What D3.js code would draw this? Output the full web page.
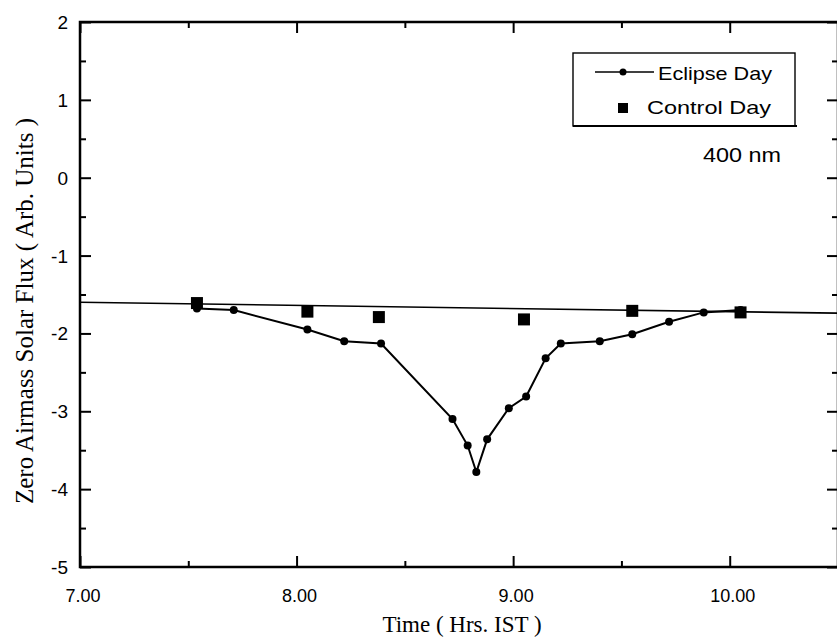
<!DOCTYPE html>
<html>
<head>
<meta charset="utf-8">
<script src="https://cdn.jsdelivr.net/npm/d3@7"></script>
<style>
    body { margin: 0; background: #fff; }
    svg { display: block; }
</style>
</head>
<body>
<svg id="chart" width="837" height="638"></svg>
<script>
// eclipse day readings (time in decimal hours IST)
var eclipseTime = [7.54, 7.71, 8.05, 8.22, 8.39, 8.72, 8.79, 8.83, 8.88, 8.98, 9.06, 9.15, 9.22, 9.40, 9.55, 9.72, 9.88, 10.05];
var eclipseFlux = [-1.68, -1.70, -1.95, -2.10, -2.13, -3.10, -3.44, -3.78, -3.36, -2.96, -2.81, -2.32, -2.13, -2.10, -2.01, -1.85, -1.73, -1.70];

// control day readings
var controlTime = [7.54, 8.05, 8.38, 9.05, 9.55, 10.05];
var controlFlux = [-1.61, -1.72, -1.79, -1.82, -1.71, -1.73];

// straight fit line through control day
var fitTime = [7.0, 10.5];
var fitFlux = [-1.60, -1.74];

var xTicks = [7, 8, 9, 10];
var xMinor = [7.5, 8.5, 9.5];
var yTicks = [2, 1, 0, -1, -2, -3, -4, -5];
var yMinor = [1.5, 0.5, -0.5, -1.5, -2.5, -3.5, -4.5];

/*=====================================================================================================
                                         Setup
======================================================================================================*/
var svg = d3.select("#chart"),
    pLeft = 80, pRight = 838, pTop = 22, pBottom = 567;

var x = d3.scaleLinear().domain([7, 10.5]).range([pLeft, pRight]);
var y = d3.scaleLinear().domain([-5, 2]).range([pBottom, pTop]);

var sans = "'Liberation Sans', Arial, Helvetica, sans-serif";
var serif = "'Liberation Serif', 'Times New Roman', Times, serif";

//frame
svg.append("rect")
    .attr("x", pLeft).attr("y", pTop)
    .attr("width", pRight - pLeft).attr("height", pBottom - pTop)
    .attr("fill", "none")
    .attr("stroke", "#000")
    .attr("stroke-width", 2.5);

//axes with inward ticks
function tickAxis(axis, scale, values, size) {
    return axis(scale).tickValues(values).tickSize(size).tickFormat("");
}
var gb = svg.append("g").attr("transform", "translate(0," + pBottom + ")");
gb.call(tickAxis(d3.axisTop, x, xTicks, 11));
gb.append("g").call(tickAxis(d3.axisTop, x, xMinor, 6));
var gt = svg.append("g").attr("transform", "translate(0," + pTop + ")");
gt.call(tickAxis(d3.axisBottom, x, xTicks, 11));
gt.append("g").call(tickAxis(d3.axisBottom, x, xMinor, 6));
var gl = svg.append("g").attr("transform", "translate(" + pLeft + ",0)");
gl.call(tickAxis(d3.axisRight, y, yTicks, 11));
gl.append("g").call(tickAxis(d3.axisRight, y, yMinor, 6));
var gr = svg.append("g").attr("transform", "translate(" + pRight + ",0)");
gr.call(tickAxis(d3.axisLeft, y, yTicks, 11));
gr.append("g").call(tickAxis(d3.axisLeft, y, yMinor, 6));

svg.selectAll(".domain").remove();
svg.selectAll(".tick line").attr("stroke", "#000").attr("stroke-width", 2);

//tick labels
svg.append("g").selectAll("text")
    .data(xTicks)
    .enter().append("text")
    .attr("x", function (d) { return x(d) + 3; })
    .attr("y", pBottom + 35)
    .attr("text-anchor", "middle")
    .attr("font-family", sans)
    .attr("font-size", 18)
    .text(function (d) { return d3.format(".2f")(d); });

svg.append("g").selectAll("text")
    .data(yTicks)
    .enter().append("text")
    .attr("x", pLeft - 12)
    .attr("y", function (d) { return y(d) + 7; })
    .attr("text-anchor", "end")
    .attr("font-family", sans)
    .attr("font-size", 19)
    .text(function (d) { return d; });

//axis titles
svg.append("text")
    .attr("x", 462).attr("y", 632)
    .attr("text-anchor", "middle")
    .attr("font-family", serif)
    .attr("font-size", 23)
    .text("Time ( Hrs. IST )");

svg.append("text")
    .attr("transform", "translate(33,311) rotate(-90)")
    .attr("text-anchor", "middle")
    .attr("font-family", serif)
    .attr("font-size", 25)
    .text("Zero Airmass Solar Flux ( Arb. Units )");

/*=====================================================================================================
                                         Series
======================================================================================================*/
var line = d3.line()
    .x(function (d) { return x(d[0]); })
    .y(function (d) { return y(d[1]); });

svg.append("path")
    .datum(d3.zip(fitTime, fitFlux))
    .attr("d", line)
    .attr("fill", "none")
    .attr("stroke", "#000")
    .attr("stroke-width", 1.6);

var eclipse = d3.zip(eclipseTime, eclipseFlux);
svg.append("path")
    .datum(eclipse)
    .attr("d", line)
    .attr("fill", "none")
    .attr("stroke", "#000")
    .attr("stroke-width", 2);

svg.append("g").selectAll("circle")
    .data(eclipse)
    .enter().append("circle")
    .attr("cx", function (d) { return x(d[0]); })
    .attr("cy", function (d) { return y(d[1]); })
    .attr("r", 4)
    .attr("fill", "#000");

var sq = 12;
svg.append("g").selectAll("rect")
    .data(d3.zip(controlTime, controlFlux))
    .enter().append("rect")
    .attr("x", function (d) { return x(d[0]) - sq / 2; })
    .attr("y", function (d) { return y(d[1]) - sq / 2; })
    .attr("width", sq).attr("height", sq)
    .attr("fill", "#000");

/*=====================================================================================================
                                         Legend
======================================================================================================*/
var lg = svg.append("g");
lg.append("rect")
    .attr("x", 573).attr("y", 53)
    .attr("width", 222).attr("height", 73)
    .attr("fill", "#fff")
    .attr("stroke", "#000")
    .attr("stroke-width", 1.4);
lg.append("line")
    .attr("x1", 573).attr("x2", 797)
    .attr("y1", 126).attr("y2", 126)
    .attr("stroke", "#000").attr("stroke-width", 2.2);
lg.append("line")
    .attr("x1", 595).attr("x2", 654)
    .attr("y1", 72).attr("y2", 72)
    .attr("stroke", "#000").attr("stroke-width", 1.5);
lg.append("circle")
    .attr("cx", 623).attr("cy", 72).attr("r", 3.5)
    .attr("fill", "#000");
lg.append("text")
    .attr("x", 658).attr("y", 80)
    .attr("font-family", sans).attr("font-size", 19)
    .attr("textLength", 114).attr("lengthAdjust", "spacingAndGlyphs")
    .text("Eclipse Day");
lg.append("rect")
    .attr("x", 618).attr("y", 103)
    .attr("width", 10).attr("height", 10)
    .attr("fill", "#000");
lg.append("text")
    .attr("x", 647).attr("y", 114)
    .attr("font-family", sans).attr("font-size", 19)
    .attr("textLength", 124).attr("lengthAdjust", "spacingAndGlyphs")
    .text("Control Day");

svg.append("text")
    .attr("x", 703).attr("y", 162)
    .attr("font-family", sans).attr("font-size", 20)
    .attr("textLength", 78).attr("lengthAdjust", "spacingAndGlyphs")
    .text("400 nm");
</script>
</body>
</html>
